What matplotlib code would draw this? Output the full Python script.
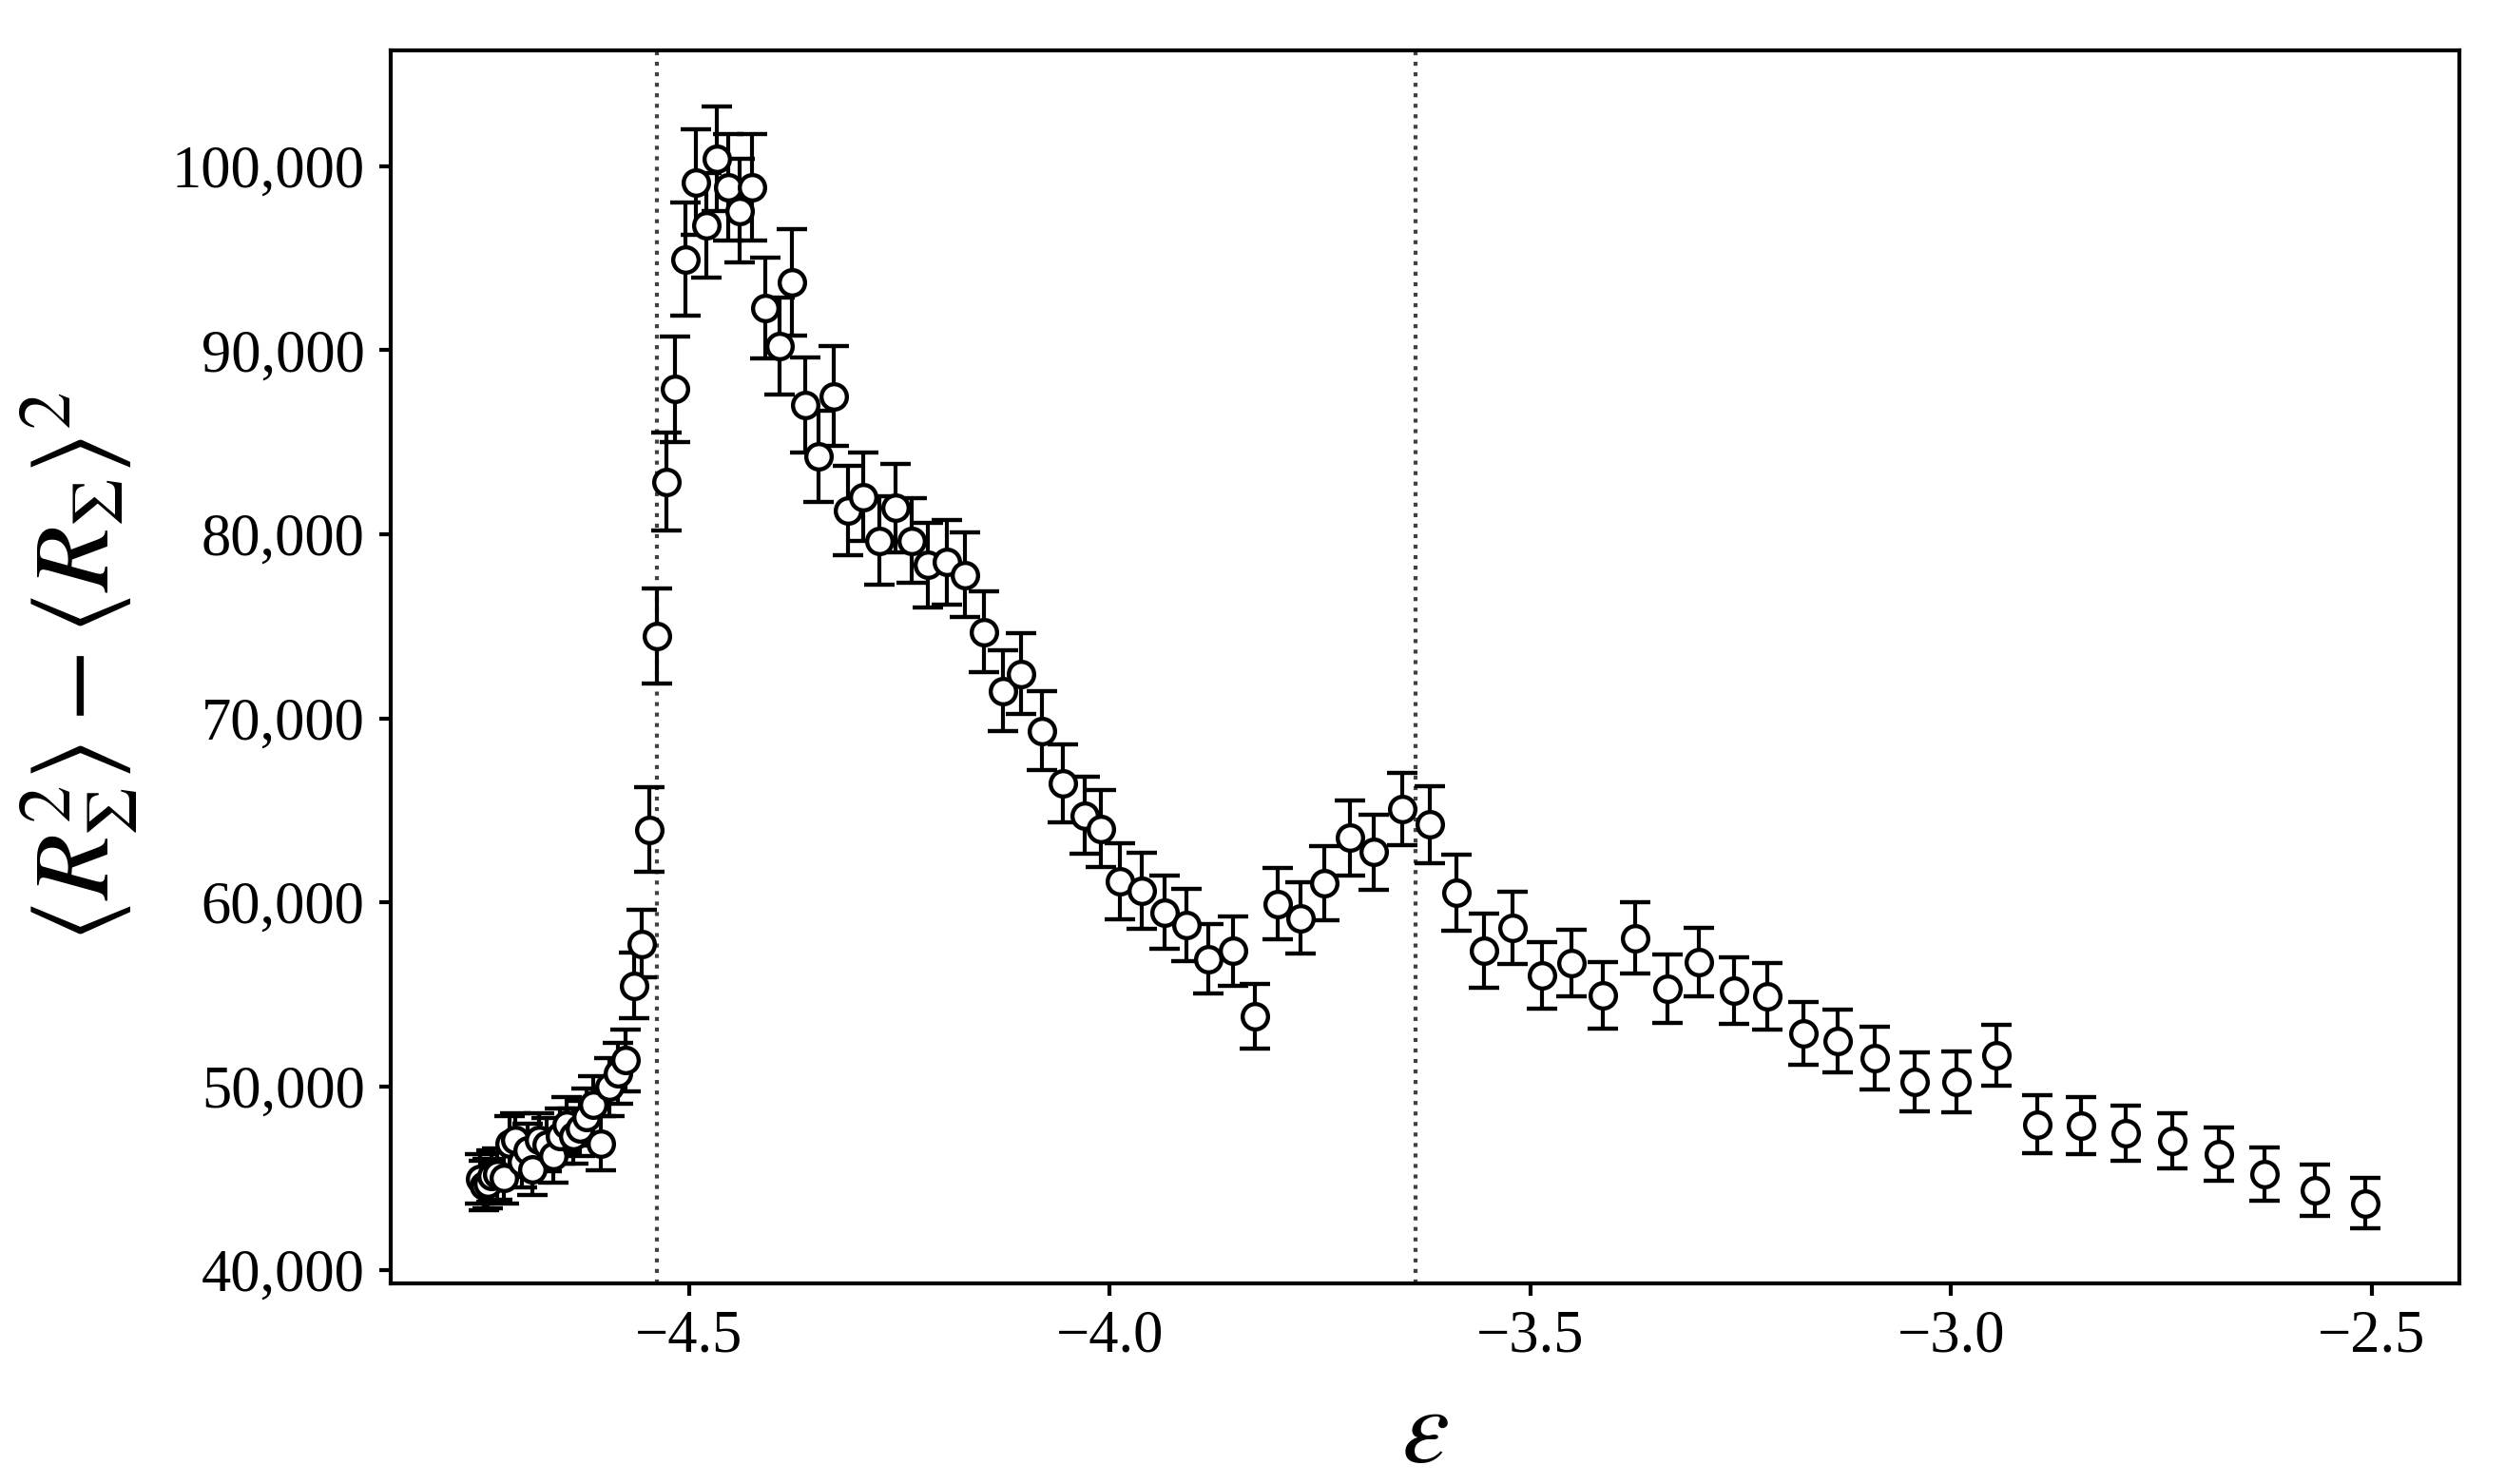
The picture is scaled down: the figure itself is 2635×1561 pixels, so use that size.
import numpy as np
import matplotlib
matplotlib.use('Agg')
import matplotlib.pyplot as plt
from matplotlib.ticker import FuncFormatter

# Data
eps = [-4.748, -4.744, -4.740, -4.735, -4.728, -4.720, -4.713, -4.707, -4.699, -4.692,
       -4.686, -4.678, -4.670, -4.662, -4.654, -4.646, -4.638, -4.630, -4.622, -4.614,
       -4.605, -4.595, -4.585, -4.576,
       -4.566, -4.556, -4.547, -4.538, -4.527, -4.517, -4.505, -4.492, -4.480, -4.467,
       -4.454, -4.440, -4.425, -4.410, -4.393, -4.378, -4.362, -4.346, -4.328, -4.311,
       -4.293, -4.274, -4.255, -4.235, -4.216, -4.194, -4.172, -4.150, -4.127, -4.105,
       -4.081, -4.056, -4.030, -4.011, -3.988, -3.962, -3.935, -3.909, -3.883, -3.854,
       -3.828, -3.800, -3.773, -3.745, -3.714, -3.686, -3.652, -3.620, -3.588, -3.555,
       -3.521, -3.486, -3.451, -3.414, -3.375, -3.337, -3.300, -3.258, -3.218, -3.176,
       -3.135, -3.091, -3.043, -2.994, -2.946, -2.897, -2.845, -2.792, -2.737, -2.682,
       -2.627, -2.568, -2.508]

var_r = [44950, 44600, 44700, 45100, 45200, 45000, 46900, 47100, 45900, 46500,
         45500, 47100, 46800, 46200, 47300, 47900, 47300, 47700, 48300, 49000,
         46900, 49950, 50700, 51400,
         55470, 57740, 63940, 74460, 82860, 87890, 94950, 99140, 96780, 100430,
         98880, 97590, 98880, 92300, 90230, 93680, 87030, 84240, 87510, 81290,
         82020, 79660, 81430, 79660, 78330, 78480, 77800, 74700, 71480, 72420,
         69320, 66460, 64720, 63990, 61140, 60620, 59450, 58760, 56920, 57340,
         53800, 59920, 59140, 61030, 63500, 62720, 65070, 64220, 60520, 57360,
         58610, 56020, 56680, 54950, 58050, 55300, 56760, 55210, 54870, 52850,
         52460, 51510, 50220, 50220, 51680, 47920, 47840, 47460, 47030, 46300,
         45220, 44360, 43630]

var_err = [1350, 1350, 1350, 1400, 1400, 1400, 1450, 1450, 1400, 1450,
           1400, 1450, 1450, 1450, 1500, 1500, 1500, 1500, 1550, 1550,
           1480, 1600, 1650, 1660,
           1800, 1830, 2290, 2580, 2650, 2870, 3080, 2850, 2850, 2840,
           2900, 2800, 2900, 2740, 2640, 2900, 2600, 2500, 2700, 2430,
           2400, 2400, 2400, 2300, 2300, 2300, 2300, 2200, 2200, 2200,
           2150, 2100, 2100, 2100, 2050, 2050, 2000, 1950, 1900, 1900,
           1750, 1950, 1950, 2000, 2050, 2050, 1970, 2100, 2060, 2000,
           1950, 1800, 1800, 1800, 1940, 1850, 1850, 1800, 1800, 1700,
           1700, 1700, 1600, 1650, 1650, 1580, 1550, 1500, 1500, 1450,
           1450, 1400, 1360]

transitions = [-4.538, -3.636]

x_ticks = [-4.5, -4.0, -3.5, -3.0, -2.5]
y_ticks = [40000, 50000, 60000, 70000, 80000, 90000, 100000]

plt.rcParams['font.family'] = ['Liberation Serif', 'DejaVu Serif']
plt.rcParams['mathtext.fontset'] = 'stix'

fig = plt.figure(figsize=(2635 / 300, 1561 / 300), dpi=300)
ax = fig.add_axes([0.1559, 0.1352, 0.8258, 0.8308])

for xv in transitions:
    ax.axvline(xv, color='0.25', linestyle=':', linewidth=1.0, zorder=1)

ax.errorbar(eps, var_r, yerr=var_err, fmt='o', color='black',
            mfc='white', mec='black', ms=6.4, mew=1.05,
            elinewidth=1.0, capsize=3.8, capthick=1.0, zorder=3)

ax.set_xlim(-4.855, -2.396)
ax.set_ylim(39280, 106300)
ax.set_xticks(x_ticks)
ax.set_yticks(y_ticks)
ax.xaxis.set_major_formatter(FuncFormatter(lambda v, p: '{:.1f}'.format(v).replace('-', '\u2212')))
ax.yaxis.set_major_formatter(FuncFormatter(lambda v, p: '{:,.0f}'.format(v)))
ax.tick_params(direction='out', length=3.0, width=1.0, labelsize=15, pad=3.5)
for s in ax.spines.values():
    s.set_linewidth(1.0)

ax.set_xlabel(r'$\varepsilon$', fontsize=27, labelpad=6)
ax.set_ylabel(r'$\langle R_{\Sigma}^{2}\rangle - \langle R_{\Sigma}\rangle^{2}$', fontsize=27, labelpad=8)

fig.savefig('out.png', dpi=300)
